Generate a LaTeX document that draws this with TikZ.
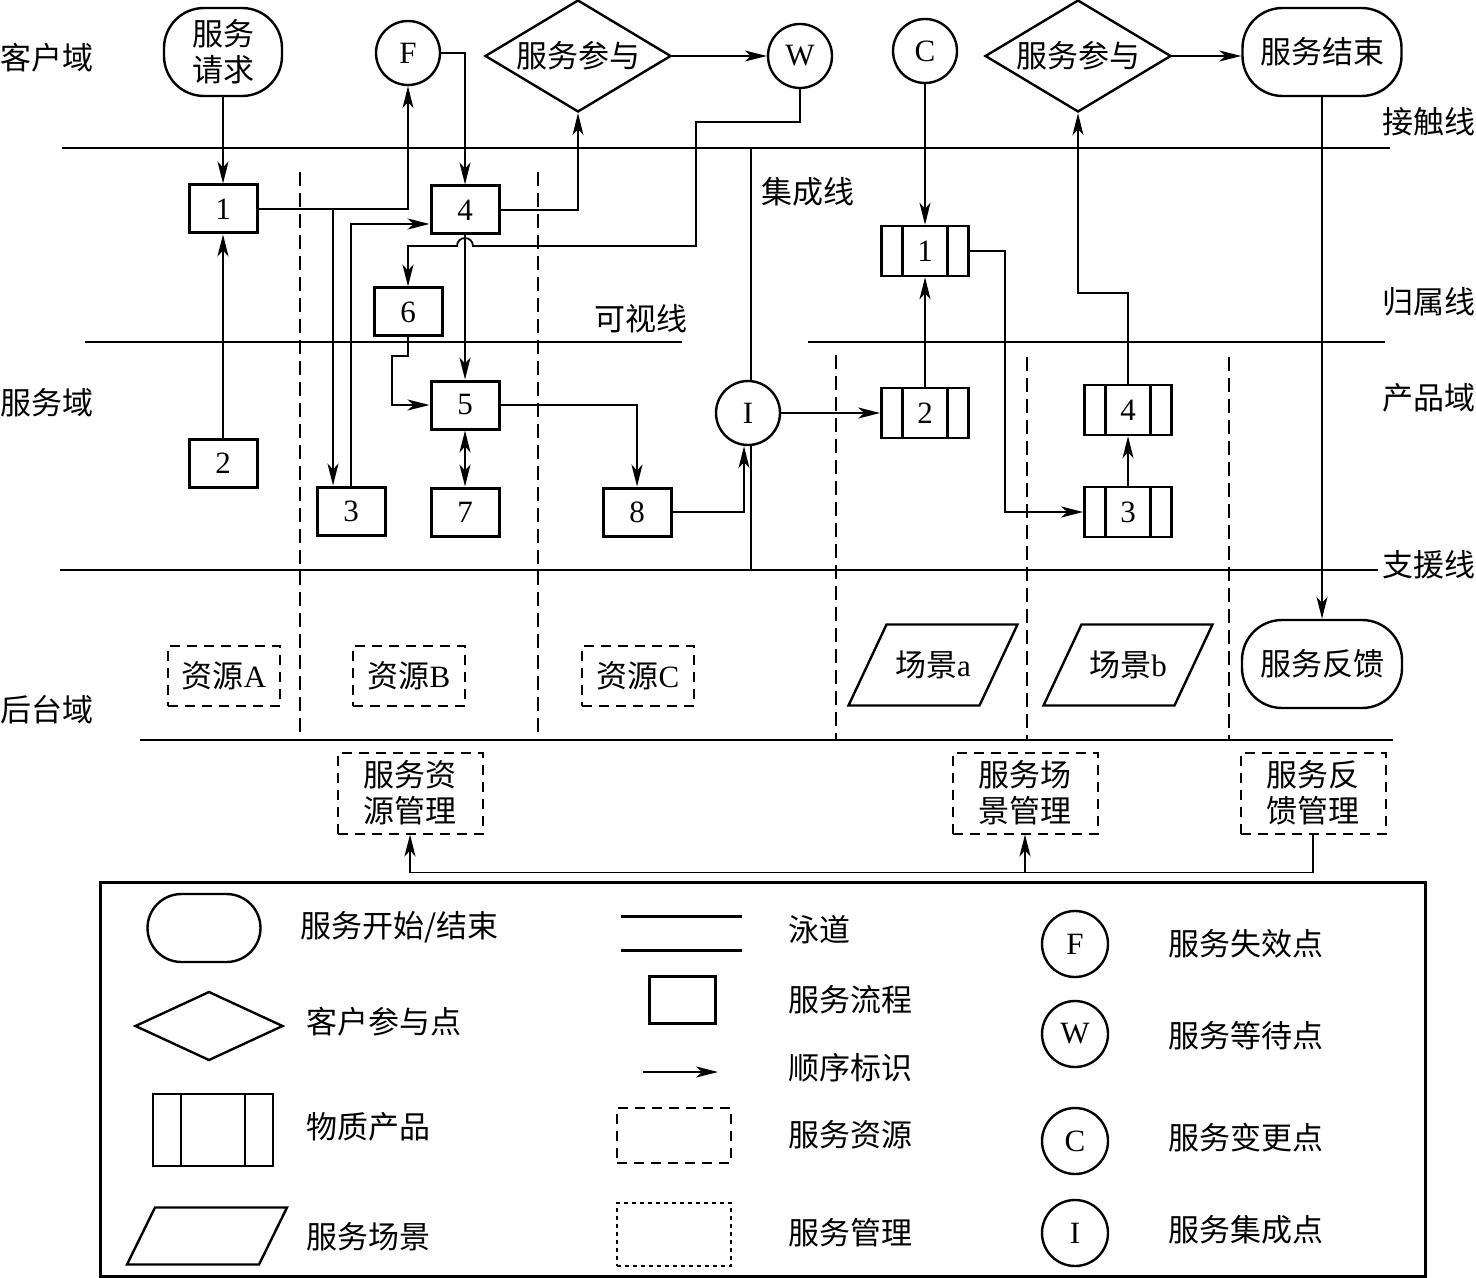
\documentclass[tikz,border=0pt]{standalone}
\usepackage{fontspec}
\setmainfont{Liberation Serif}
\newfontfamily\cjk{Noto Sans CJK SC}
\usetikzlibrary{arrows.meta,shapes.geometric,positioning}
% parallelogram round a named text node: node, width, height, slant
\newcommand{\sceneframe}[4]{%
  \draw[scene] ([shift={(-#2/2,#3/2)}]#1.center) -- ++(#2-#4,0) -- ++(#4,-#3) -- ++(-#2+#4,0) -- cycle;}

\begin{document}
\begin{tikzpicture}[
  x=0.5pt, y=-0.5pt,
  font=\fontsize{15.5pt}{18pt}\selectfont,
  zh/.style={font=\fontsize{15.5pt}{18pt}\selectfont\cjk},
  lbl/.style={zh, inner sep=0pt},
  lane/.style={line width=1pt},
  lanedash/.style={line width=0.9pt, dash pattern=on 7pt off 3.5pt},
  flow/.style={line width=0.9pt, -{Stealth[length=11pt, width=5.5pt, inset=3pt]}},
  dflow/.style={line width=0.9pt, {Stealth[length=11pt, width=5.5pt, inset=3pt]}-{Stealth[length=11pt, width=5.5pt, inset=3pt]}},
  proc/.style={draw, line width=1.5pt, minimum width=34pt, minimum height=24pt, inner sep=0pt, fill=white},
  prod/.style={draw, line width=1.3pt, minimum width=43.5pt, minimum height=25pt, inner sep=0pt, fill=white,
    path picture={
      \draw[line width=1.3pt] ([xshift=#1]path picture bounding box.north west) -- ([xshift=#1]path picture bounding box.south west)
        ([xshift=-#1]path picture bounding box.north east) -- ([xshift=-#1]path picture bounding box.south east);
    }},
  prod/.default=10.5pt,
  ptc/.style={circle, draw, line width=1.2pt, minimum size=32pt, inner sep=0pt, fill=white},
  stadium/.style={draw, line width=1.2pt, rounded corners=20pt, inner sep=0pt, align=center, zh},
  actd/.style={diamond, draw, line width=1.2pt, inner sep=0pt, aspect=1.66, minimum width=93pt, minimum height=56pt, fill=white, zh},
  res/.style={draw, line width=1pt, dash pattern=on 5pt off 3.5pt, inner sep=0pt, align=center},
  mgmt/.style={res, zh, minimum width=72.5pt, minimum height=40.5pt},
  scene/.style={line width=1.2pt}
]
  \useasboundingbox (0,0) rectangle (1476,1278);

  % lanes
  \draw[lane] (62,148) -- (1390,148);
  \draw[lane] (85,342) -- (682,342);
  \draw[lane] (808,342) -- (1385,342);
  \draw[lane] (60,570) -- (1378,570);
  \draw[lane] (140,740) -- (1393,740);
  \draw[lane] (751,148) -- (751,570);
  \foreach \x/\y in {300/172, 538/172, 836/355, 1027/357, 1229/357}
    \draw[lanedash] (\x,\y) -- (\x,740);

  % lane labels
  \node[lbl, anchor=west] (dCust) at (0,58) {客户域};
  \node[lbl, anchor=west] (dServ) at (0,403) {服务域};
  \node[lbl, anchor=west] (dBack) at (0,710) {后台域};
  \node[lbl, anchor=east] (lContact) at (1476,122) {接触线};
  \node[lbl, anchor=east] (lOwn) at (1476,302) {归属线};
  \node[lbl, anchor=east] (dProd) at (1476,398) {产品域};
  \node[lbl, anchor=east] (lSupport) at (1476,565) {支援线};
  \node[lbl] (lInteg) at (808,192) {集成线};
  \node[lbl] (lVisible) at (641,319) {可视线};

  % customer domain
  \node[stadium, minimum width=59pt, minimum height=44pt] (req) at (223,52) {服务\\请求};
  \node[ptc] (F) at (408,53) {F};
  \node[actd] (act1) at (578,56) {服务参与};
  \node[ptc] (W) at (800,56) {W};
  \node[ptc] (C) at (925,51) {C};
  \node[actd] (act2) at (1078,56) {服务参与};
  \node[stadium, minimum width=79.5pt, minimum height=44pt] (end) at (1322,52) {服务结束};

  % service processes
  \node[proc] (p1) at (223,209) {1};
  \node[proc] (p4) at (465,210) {4};
  \node[proc] (p6) at (408,312) {6};
  \node[proc] (p5) at (465,405) {5};
  \node[proc] (p2) at (223,463) {2};
  \node[proc] (p3) at (351,511) {3};
  \node[proc] (p7) at (465,512) {7};
  \node[proc] (p8) at (637,512) {8};
  \node[ptc] (I) at (748,413) {I};

  % products
  \node[prod] (q1) at (925,251) {1};
  \node[prod] (q2) at (925,413) {2};
  \node[prod] (q4) at (1128,410) {4};
  \node[prod] (q3) at (1128,512) {3};

  % back stage
  \node[res, minimum width=56pt, minimum height=30pt] (resA) at (224,676) {{\cjk 资源}A};
  \node[res, minimum width=56pt, minimum height=30pt] (resB) at (409,676) {{\cjk 资源}B};
  \node[res, minimum width=56pt, minimum height=30pt] (resC) at (638,676) {{\cjk 资源}C};
  \node (scA) at (933,665) {{\cjk 场景}a};
  \sceneframe{scA}{169}{81}{38}
  \node (scB) at (1128,665) {{\cjk 场景}b};
  \sceneframe{scB}{169}{81}{38}
  \node[stadium, minimum width=80pt, minimum height=44pt] (fb) at (1322,664) {服务反馈};
  \node[mgmt] (resm) at (410,793) {服务资\\源管理};
  \node[mgmt] (scm) at (1025,793) {服务场\\景管理};
  \node[mgmt] (fbm) at (1313,793) {服务反\\馈管理};

  % connectors
  \draw[flow] (req) -- (p1);
  \draw[flow] (p2) -- (p1);
  \draw[flow] (p1.east) -| (F.south);
  \coordinate (br) at (333,209);
  \draw[flow] (br) -- (br |- p3.north);
  \draw[flow] (p3.north) |- ([yshift=-7pt]p4.west);
  \draw[flow] (F.east) -| (p4.north);
  \draw[flow] (p4.east) -| (act1.south);
  \draw[flow] (act1) -- (W);
  \draw[flow] (W.south) |- (696,122) |- (473,246) arc (0:-180:8) -| (p6.north);
  \draw[flow] (p4) -- (p5);
  \draw[flow] (p6.south) |- (392,356) |- (p5.west);
  \draw[dflow] (p5) -- (p7);
  \draw[flow] (p5.east) -| (p8.north);
  \draw[flow] (p8.east) -| ([xshift=-2pt]I.south);
  \draw[flow] (I) -- (q2);
  \draw[flow] (C) -- (q1);
  \draw[flow] (q2) -- (q1);
  \draw[flow] (q1.east) -- ++(35,0) |- (q3.west);
  \draw[flow] (q3) -- (q4);
  \draw[flow] (q4.north) -- ++(0,-91) -| (act2.south);
  \draw[flow] (act2.east) -- (act2.east -| end.west);
  \draw[flow] (end) -- (fb);
  \draw[flow] (fbm.south) -- ++(0,38) -| (resm.south);
  \draw[flow] ([yshift=-19pt]scm.south) -- (scm.south);

  % legend
  \draw[line width=1.5pt] (100,882) rectangle (1425,1276);
  \node[stadium, rounded corners=17pt, minimum width=56.5pt, minimum height=34pt] (lgStart) at (204,928) {};
  \node[actd, minimum width=74pt, minimum height=34.5pt] (lgAct) at (209,1026) {};
  \node[prod=14pt, minimum width=60pt, minimum height=36pt] (lgProd) at (213,1130) {};
  \node[inner sep=0pt] (lgScene) at (207,1236) {};
  \sceneframe{lgScene}{160}{57}{28}
  \draw[lane, line width=1.5pt] (621,916) -- (742,916) (621,950) -- (742,950);
  \node[proc, minimum width=33pt, minimum height=23.5pt] (lgProc) at (682,1000) {};
  \coordinate (lgA) at (643,1072);
  \coordinate (lgB) at (718,1072);
  \draw[flow] (lgA) -- (lgB);
  \node[res, minimum width=57pt, minimum height=27.5pt] (lgRes) at (674,1135) {};
  \node[res, dash pattern=on 2pt off 2pt, minimum width=57pt, minimum height=31.5pt] (lgMgmt) at (674,1234) {};
  \node[ptc, minimum size=33pt] (lgF) at (1075,944) {F};
  \node[ptc, minimum size=33pt] (lgW) at (1075,1034) {W};
  \node[ptc, minimum size=33pt] (lgC) at (1075,1141) {C};
  \node[ptc, minimum size=33pt] (lgI) at (1075,1233) {I};

  \node[lbl, anchor=west] (tStart) at (300,927) {服务开始/结束};
  \node[lbl, anchor=west] (tAct) at (306,1022) {客户参与点};
  \node[lbl, anchor=west] (tProd) at (306,1127) {物质产品};
  \node[lbl, anchor=west] (tScene) at (306,1237) {服务场景};
  \node[lbl, anchor=west] (tLane) at (788,930) {泳道};
  \node[lbl, anchor=west] (tProc) at (788,1000) {服务流程};
  \node[lbl, anchor=west] (tSeq) at (788,1068) {顺序标识};
  \node[lbl, anchor=west] (tRes) at (788,1135) {服务资源};
  \node[lbl, anchor=west] (tMgmt) at (788,1233) {服务管理};
  \node[lbl, anchor=west] (tF) at (1168,944) {服务失效点};
  \node[lbl, anchor=west] (tW) at (1168,1036) {服务等待点};
  \node[lbl, anchor=west] (tC) at (1168,1138) {服务变更点};
  \node[lbl, anchor=west] (tI) at (1168,1230) {服务集成点};
\end{tikzpicture}
\end{document}
